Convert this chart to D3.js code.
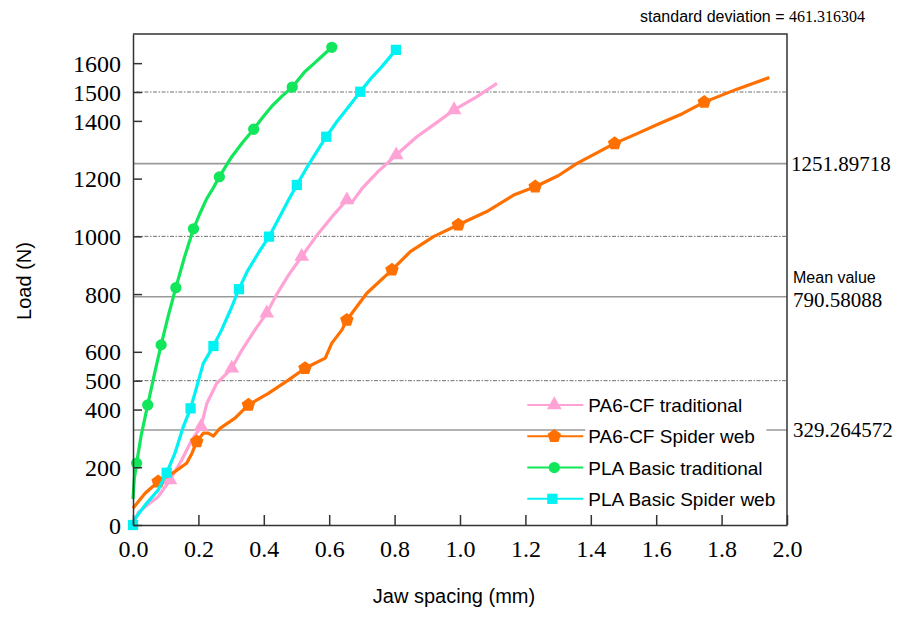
<!DOCTYPE html>
<html lang="en">
<head>
<meta charset="utf-8">
<title>load vs jaw spacing</title>
<script src="https://d3js.org/d3.v7.min.js"></script>
<style>
  body { margin: 0; background: #fff; }
  .tick text { font-family: "Liberation Serif", "Times New Roman", serif; fill: #000; }
  .sans { font-family: "Liberation Sans", Arial, sans-serif; }
  .serif { font-family: "Liberation Serif", "Times New Roman", serif; }
</style>
</head>
<body>
<div id="chart"></div>
<script>
// ---- data ----
var seriesNames = ["PA6-CF traditional", "PA6-CF Spider web", "PLA Basic traditional", "PLA Basic Spider web"]
var seriesColors = ["#ffa3d6", "#ff7000", "#12e65a", "#00f2f2"]
var seriesSymbols = ["triangle", "pentagon", "circle", "square"]

var pa6TradX = [0, 0.016, 0.045, 0.077, 0.113, 0.149, 0.180, 0.208, 0.226, 0.256, 0.302, 0.333, 0.373, 0.409, 0.440, 0.475, 0.516, 0.560, 0.610, 0.654, 0.669, 0.700, 0.750, 0.805, 0.868, 0.919, 0.982, 1.052, 1.113]
var pa6TradY = [0, 43, 70, 98, 156, 225, 295, 341, 422, 491, 543, 606, 676, 734, 800, 865, 930, 1000, 1070, 1126, 1117, 1165, 1225, 1282, 1345, 1386, 1438, 1484, 1530]
var pa6TradMarks = [4, 7, 10, 13, 16, 19, 23, 26]

var pa6WebX = [0, 0.037, 0.077, 0.128, 0.164, 0.180, 0.195, 0.215, 0.230, 0.246, 0.266, 0.312, 0.353, 0.414, 0.475, 0.526, 0.588, 0.608, 0.639, 0.654, 0.715, 0.792, 0.848, 0.919, 0.995, 1.082, 1.164, 1.230, 1.300, 1.358, 1.420, 1.473, 1.540, 1.607, 1.680, 1.747, 1.847, 1.946]
var pa6WebY = [58, 110, 150, 185, 214, 248, 289, 318, 318, 308, 335, 370, 416, 456, 502, 543, 578, 630, 676, 710, 803, 884, 947, 999, 1040, 1086, 1143, 1172, 1210, 1253, 1290, 1322, 1355, 1389, 1425, 1465, 1510, 1550]
var pa6WebMarks = [2, 6, 12, 15, 19, 21, 24, 27, 31, 35]

var plaTradX = [0, 0.004, 0.011, 0.025, 0.045, 0.065, 0.086, 0.108, 0.131, 0.158, 0.185, 0.205, 0.225, 0.244, 0.264, 0.285, 0.302, 0.335, 0.369, 0.395, 0.424, 0.455, 0.487, 0.526, 0.555, 0.577, 0.608]
var plaTradY = [90, 160, 214, 310, 416, 520, 624, 725, 822, 930, 1026, 1080, 1130, 1165, 1206, 1245, 1276, 1325, 1371, 1410, 1450, 1485, 1517, 1571, 1600, 1623, 1655]
var plaTradMarks = [2, 4, 6, 8, 10, 14, 18, 22, 26]

var plaWebX = [0, 0.005, 0.037, 0.077, 0.103, 0.128, 0.154, 0.176, 0.195, 0.215, 0.246, 0.271, 0.300, 0.324, 0.350, 0.385, 0.416, 0.445, 0.475, 0.501, 0.530, 0.560, 0.591, 0.625, 0.660, 0.695, 0.730, 0.761, 0.804]
var plaWebY = [0, 20, 69, 121, 181, 248, 341, 404, 479, 560, 620, 676, 750, 817, 880, 945, 999, 1060, 1125, 1178, 1235, 1290, 1345, 1400, 1450, 1501, 1550, 1588, 1646]
var plaWebMarks = [0, 4, 7, 10, 13, 16, 19, 22, 25, 28]

var xTicks = [0, 0.2, 0.4, 0.6, 0.8, 1.0, 1.2, 1.4, 1.6, 1.8, 2.0]
var yTicks = [0, 200, 400, 500, 600, 800, 1000, 1200, 1400, 1500, 1600]
var dottedLevels = [500, 1000, 1500]
var meanValue = 790.58088
var stdDev = 461.316304
var statLevels = [1251.89718, 790.58088, 329.264572]
var statLabels = ["1251.89718", "790.58088", "329.264572"]

var xSeries = [pa6TradX, pa6WebX, plaTradX, plaWebX]
var ySeries = [pa6TradY, pa6WebY, plaTradY, plaWebY]
var markSeries = [pa6TradMarks, pa6WebMarks, plaTradMarks, plaWebMarks]

// ---- layout ----
var W = 905, H = 618
var margin = {left: 133, top: 34, right: 118, bottom: 93}
var pw = W - margin.left - margin.right
var ph = H - margin.top - margin.bottom

var svg = d3.select("#chart").append("svg")
    .attr("width", W).attr("height", H)

var g = svg.append("g").attr("transform", "translate(" + margin.left + "," + margin.top + ")")

var x = d3.scaleLinear().domain([0, 2]).range([0, pw])
var y = d3.scaleLinear().domain([0, 1701]).range([ph, 0])

// reference lines
g.selectAll(".dotted").data(dottedLevels).enter().append("line")
    .attr("x1", 0).attr("x2", pw)
    .attr("y1", d => y(d)).attr("y2", d => y(d))
    .attr("stroke", "#707070").attr("stroke-width", 1)
    .attr("stroke-dasharray", "1.5,1.5,4,1.5")

g.selectAll(".stat").data(statLevels).enter().append("line")
    .attr("x1", 0).attr("x2", pw)
    .attr("y1", d => y(d)).attr("y2", d => y(d))
    .attr("stroke", "#9a9a9a").attr("stroke-width", 1.6)

// pentagon symbol
var symPentagon = {
    draw: function(context, size) {
        var r = Math.sqrt(size / 2.378)
        for (var i = 0; i < 5; i++) {
            var a = -Math.PI / 2 + i * 2 * Math.PI / 5
            if (i === 0) context.moveTo(r * Math.cos(a), r * Math.sin(a))
            else context.lineTo(r * Math.cos(a), r * Math.sin(a))
        }
        context.closePath()
    }
}
function symbolPath(name, size) {
    var t = {triangle: d3.symbolTriangle, circle: d3.symbolCircle, square: d3.symbolSquare, pentagon: symPentagon}[name]
    var sz = {triangle: 95, circle: 100, square: 105, pentagon: 120}[name]
    return d3.symbol().type(t).size(size || sz)()
}

var line = d3.line().x(d => x(d[0])).y(d => y(d[1]))

for (var s = 0; s < seriesNames.length; s++) {
    var pts = xSeries[s].map((v, i) => [v, ySeries[s][i]])
    g.append("path").datum(pts)
        .attr("fill", "none")
        .attr("stroke", seriesColors[s])
        .attr("stroke-width", 3.2)
        .attr("stroke-linejoin", "round")
        .attr("d", line)
    g.selectAll(".m" + s).data(markSeries[s].map(i => pts[i])).enter().append("path")
        .attr("transform", d => "translate(" + x(d[0]) + "," + y(d[1]) + ")")
        .attr("d", symbolPath(seriesSymbols[s]))
        .attr("fill", seriesColors[s])
}

// axes (inward ticks)
var xAxis = d3.axisBottom(x).tickValues(xTicks).tickFormat(d3.format(".1f"))
    .tickSizeInner(-10).tickSizeOuter(0).tickPadding(15)
var yAxis = d3.axisLeft(y).tickValues(yTicks).tickFormat(d3.format("d"))
    .tickSizeInner(-9).tickSizeOuter(0).tickPadding(12)

var gx = g.append("g").attr("transform", "translate(0," + ph + ")").call(xAxis)
var gy = g.append("g").call(yAxis)
gx.selectAll("text").style("font-size", "24px")
gy.selectAll("text").style("font-size", "24px").attr("dy", "0.34em")
gx.selectAll("line,path").attr("stroke", "#333").attr("stroke-width", 1.5)
gy.selectAll("line,path").attr("stroke", "#333").attr("stroke-width", 1.5)

// frame top / right
g.append("path")
    .attr("d", "M0,0H" + pw + "V" + ph)
    .attr("fill", "none").attr("stroke", "#333").attr("stroke-width", 1.5)

// legend
var lg = g.append("g").attr("transform", "translate(" + (x(1.215)) + "," + y(416) + ")")
lg.append("rect").attr("x", 55).attr("y", -16).attr("width", 181).attr("height", 124).attr("fill", "#fff")
seriesNames.forEach(function(name, i) {
    var row = lg.append("g").attr("transform", "translate(0," + (i * 31.3) + ")")
    row.append("line").attr("x1", -3).attr("x2", 53).attr("y1", 0).attr("y2", 0)
        .attr("stroke", seriesColors[i]).attr("stroke-width", 2)
    row.append("path").attr("transform", "translate(" + (i == 3 ? 22 : 24) + ",0)")
        .attr("d", symbolPath(seriesSymbols[i]))
        .attr("fill", seriesColors[i])
    row.append("text").attr("class", "sans").attr("x", 58).attr("y", 7)
        .style("font-size", "19px").text(name)
})

// axis titles
svg.append("text").attr("class", "sans")
    .attr("transform", "translate(31,281) rotate(-90)")
    .attr("text-anchor", "middle").style("font-size", "20px").text("Load (N)")
svg.append("text").attr("class", "sans")
    .attr("x", 454).attr("y", 603)
    .attr("text-anchor", "middle").style("font-size", "20px").text("Jaw spacing (mm)")

// statistics annotation
var rx = margin.left + pw
svg.append("text").attr("class", "serif").attr("x", rx + 4).attr("y", margin.top + y(statLevels[0]) + 7)
    .style("font-size", "21px").text(statLabels[0])
svg.append("text").attr("class", "sans").attr("x", rx + 6).attr("y", 283)
    .style("font-size", "16px").text("Mean value")
svg.append("text").attr("class", "serif").attr("x", rx + 6).attr("y", 307)
    .style("font-size", "21px").text(statLabels[1])
svg.append("text").attr("class", "serif").attr("x", rx + 6).attr("y", margin.top + y(statLevels[2]) + 7)
    .style("font-size", "21px").text(statLabels[2])

var sd = svg.append("text").attr("x", 640).attr("y", 22)
sd.append("tspan").attr("class", "sans").style("font-size", "16px").text("standard deviation = ")
sd.append("tspan").attr("class", "serif").style("font-size", "16px").text(String(stdDev))
</script>
</body>
</html>
